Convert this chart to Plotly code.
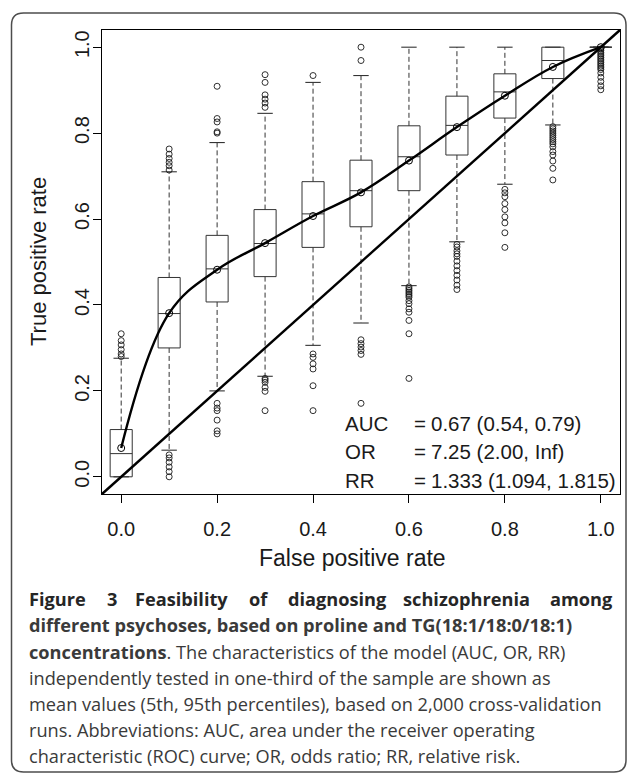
import plotly.graph_objects as go

# ---------------- data ----------------
fpr = [0.0, 0.1, 0.2, 0.3, 0.4, 0.5, 0.6, 0.7, 0.8, 0.9, 1.0]
q1 = [0.000, 0.300, 0.407, 0.466, 0.534, 0.582, 0.666, 0.749, 0.835, 0.927, 1.000]
median = [0.054, 0.380, 0.484, 0.543, 0.612, 0.666, 0.745, 0.818, 0.896, 0.969, 1.000]
q3 = [0.110, 0.464, 0.562, 0.622, 0.687, 0.737, 0.817, 0.886, 0.938, 1.000, 1.000]
whisker_lo = [0.000, 0.062, 0.200, 0.234, 0.306, 0.358, 0.445, 0.547, 0.681, 0.819, 1.000]
whisker_hi = [0.276, 0.710, 0.778, 0.846, 0.918, 0.934, 1.000, 1.000, 1.000, 1.000, 1.000]
mean_tpr = [0.067, 0.381, 0.482, 0.544, 0.607, 0.662, 0.736, 0.814, 0.887, 0.954, 1.000]
outliers = [
    [0.280, 0.286, 0.296, 0.307, 0.317, 0.333],
    [0.714, 0.724, 0.732, 0.741, 0.751, 0.763, 0.051, 0.044, 0.034, 0.023, 0.012, 0.000],
    [0.800, 0.803, 0.826, 0.834, 0.909, 0.171, 0.160, 0.154, 0.132, 0.107, 0.100],
    [0.860, 0.870, 0.879, 0.889, 0.918, 0.936, 0.229, 0.225, 0.220, 0.208, 0.199, 0.154],
    [0.934, 0.286, 0.278, 0.263, 0.251, 0.212, 0.154],
    [1.000, 0.969, 0.319, 0.310, 0.302, 0.294, 0.285, 0.171],
    [0.442, 0.438, 0.434, 0.430, 0.426, 0.422, 0.418, 0.410, 0.403, 0.391, 0.383, 0.364, 0.333, 0.229],
    [0.541, 0.535, 0.526, 0.519, 0.513, 0.502, 0.491, 0.480, 0.469, 0.458, 0.446, 0.436],
    [0.669, 0.661, 0.652, 0.636, 0.622, 0.605, 0.591, 0.568, 0.534],
    [0.815, 0.810, 0.805, 0.800, 0.795, 0.790, 0.785, 0.780, 0.775, 0.768, 0.757, 0.749, 0.735, 0.718, 0.691],
    [0.996, 0.992, 0.988, 0.984, 0.980, 0.976, 0.972, 0.968, 0.964, 0.960, 0.956, 0.952, 0.948,
     0.940, 0.930, 0.920, 0.910, 0.901],
]
tick_vals = [0.0, 0.2, 0.4, 0.6, 0.8, 1.0]
tick_text = ["0.0", "0.2", "0.4", "0.6", "0.8", "1.0"]
stat_labels = ["AUC", "OR", "RR"]
stat_values = ["0.67 (0.54, 0.79)", "7.25 (2.00, Inf)", "1.333 (1.094, 1.815)"]
caption_words_line1 = ["Figure", "3", "Feasibility", "of", "diagnosing", "schizophrenia", "among"]
caption_lines = [
    "<b>different psychoses, based on proline and TG(18:1/18:0/18:1)</b>",
    "<b>concentrations</b>. The characteristics of the model (AUC, OR, RR)",
    "independently tested in one-third of the sample are shown as",
    "mean values (5th, 95th percentiles), based on 2,000 cross-validation",
    "runs. Abbreviations: AUC, area under the receiver operating",
    "characteristic (ROC) curve; OR, odds ratio; RR, relative risk.",
]

# ---------------- layout geometry (pixels) ----------------
W, H = 629, 774
L, R, T, B = 102, 620, 30, 494


def px_x(p):
    return (p - L) / (R - L)


def px_y(p):
    return (B - p) / (B - T)


FONT = "Liberation Sans, Arial, sans-serif"
CAP_FONT = "Open Sans, sans-serif"
INK = "#1a1a1a"

fig = go.Figure()

# boxes (whiskers drawn separately, dashed)
fig.add_trace(go.Box(
    x=fpr, q1=q1, median=median, q3=q3, lowerfence=q1, upperfence=q3,
    width=0.046, whiskerwidth=0, boxpoints=False,
    line=dict(color="#333333", width=1), fillcolor="rgba(0,0,0,0)",
    showlegend=False, hoverinfo="skip",
))

# dashed whiskers
wx, wy = [], []
for f, a, b, c, d in zip(fpr, q1, q3, whisker_lo, whisker_hi):
    wx += [f, f, None, f, f, None]
    wy += [b, d, None, a, c, None]
fig.add_trace(go.Scatter(x=wx, y=wy, mode="lines",
                         line=dict(color="#333333", width=1, dash="5px,3px"),
                         showlegend=False, hoverinfo="skip"))

# staples
fig.add_trace(go.Scatter(x=fpr + fpr, y=whisker_hi + whisker_lo, mode="markers",
                         marker=dict(symbol="line-ew", size=11,
                                     line=dict(color="#333333", width=1.1)),
                         showlegend=False, hoverinfo="skip"))

# outliers
ox, oy = [], []
for f, vals in zip(fpr, outliers):
    ox += [f] * len(vals)
    oy += vals
fig.add_trace(go.Scatter(x=ox, y=oy, mode="markers",
                         marker=dict(symbol="circle-open", size=6, color=INK,
                                     line=dict(width=0.9)),
                         showlegend=False, hoverinfo="skip"))

# mean ROC curve
fig.add_trace(go.Scatter(x=fpr, y=mean_tpr, mode="lines+markers",
                         line=dict(color="black", width=2.4, shape="spline", smoothing=1.1),
                         marker=dict(symbol="circle-open", size=7, color="black",
                                     line=dict(width=1)),
                         showlegend=False, hoverinfo="skip"))

shapes = []
# diagonal reference line (corner to corner of plotting region)
shapes.append(dict(type="line", xref="paper", yref="paper", x0=0, y0=0, x1=1, y1=1,
                   line=dict(color="black", width=2.4), layer="above"))

# outer rounded border
bl, bt, br, bb, rad = 11.5, 13, 626, 772, 12
path = (f"M {px_x(bl+rad)},{px_y(bt)} L {px_x(br-rad)},{px_y(bt)} "
        f"Q {px_x(br)},{px_y(bt)} {px_x(br)},{px_y(bt+rad)} "
        f"L {px_x(br)},{px_y(bb-rad)} Q {px_x(br)},{px_y(bb)} {px_x(br-rad)},{px_y(bb)} "
        f"L {px_x(bl+rad)},{px_y(bb)} Q {px_x(bl)},{px_y(bb)} {px_x(bl)},{px_y(bb-rad)} "
        f"L {px_x(bl)},{px_y(bt+rad)} Q {px_x(bl)},{px_y(bt)} {px_x(bl+rad)},{px_y(bt)} Z")
shapes.append(dict(type="path", xref="paper", yref="paper", path=path,
                   line=dict(color="#4d4d4d", width=1.5)))

annotations = []
# axis titles
annotations.append(dict(text="False positive rate", xref="paper", yref="paper",
                        x=px_x(352.5), y=px_y(558), xanchor="center", yanchor="middle",
                        showarrow=False, font=dict(family=FONT, size=23, color=INK)))
annotations.append(dict(text="True positive rate", xref="paper", yref="paper",
                        x=px_x(38), y=px_y(262), xanchor="center", yanchor="middle",
                        textangle=-90, showarrow=False,
                        font=dict(family=FONT, size=22, color=INK)))

# statistics text
row_y = [423, 451.5, 480]
for lab, val, ry in zip(stat_labels, stat_values, row_y):
    annotations.append(dict(text=lab, xref="paper", yref="paper", x=px_x(343), y=px_y(ry),
                            xanchor="left", yanchor="middle", showarrow=False,
                            font=dict(family=FONT, size=20.5, color=INK)))
    annotations.append(dict(text="=", xref="paper", yref="paper", x=px_x(420), y=px_y(ry),
                            xanchor="center", yanchor="middle", showarrow=False,
                            font=dict(family=FONT, size=20.5, color=INK)))
    annotations.append(dict(text=val, xref="paper", yref="paper", x=px_x(429), y=px_y(ry),
                            xanchor="left", yanchor="middle", showarrow=False,
                            font=dict(family=FONT, size=20.5, color=INK)))

# caption: first (justified) line placed word by word
word_x = [26.7, 105.4, 133.1, 246.8, 285.5, 401.2, 615]
word_anchor = ["left"] * 6 + ["right"]
for wtxt, wxp, anc in zip(caption_words_line1, word_x, word_anchor):
    annotations.append(dict(text=f"<b>{wtxt}</b>", xref="paper", yref="paper",
                            x=px_x(wxp), y=px_y(599), xanchor=anc, yanchor="middle",
                            showarrow=False,
                            font=dict(family=CAP_FONT, size=18.2, color="#262626")))
cap_y = [625, 651.5, 677.5, 703.5, 730, 756]
for txt, cy in zip(caption_lines, cap_y):
    annotations.append(dict(text=txt, xref="paper", yref="paper", x=px_x(26.5), y=px_y(cy),
                            xanchor="left", yanchor="middle", showarrow=False,
                            font=dict(family=CAP_FONT, size=18.2, color="#3a3a3a")))

axis_common = dict(range=[-0.04, 1.04], showgrid=False, zeroline=False,
                   showline=True, linecolor="black", linewidth=1.2, mirror=True,
                   ticks="outside", ticklen=8, tickwidth=1.1, tickcolor="black",
                   tickvals=tick_vals, ticktext=tick_text,
                   tickfont=dict(family=FONT, size=20, color=INK))

fig.update_layout(
    width=W, height=H,
    margin=dict(l=L, r=W - R, t=T, b=H - B, pad=0),
    paper_bgcolor="white", plot_bgcolor="white",
    xaxis=dict(**axis_common, ticklabelstandoff=9),
    yaxis=dict(**axis_common, tickangle=-90, ticklabelstandoff=-4),
    shapes=shapes, annotations=annotations,
    showlegend=False,
)

fig.write_html("out.html", config={"displayModeBar": False},
               post_script="document.body.style.margin='0';")
